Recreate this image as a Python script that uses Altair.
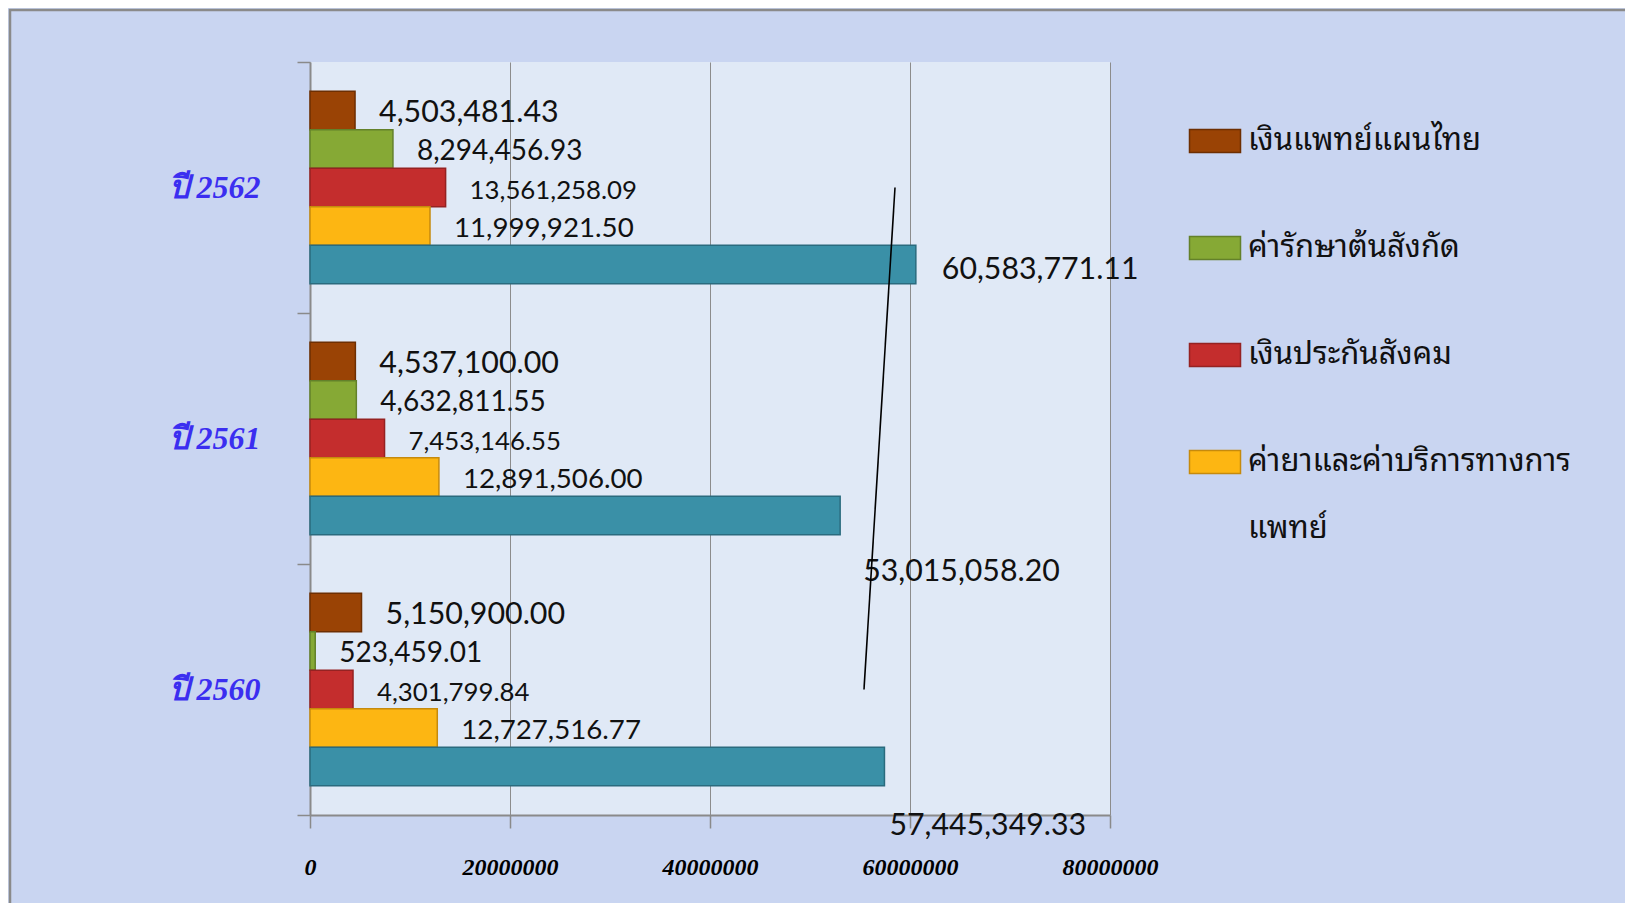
import altair as alt
import pandas as pd

# ---------------- data ----------------
years = ["ปี 2562", "ปี 2561", "ปี 2560"]
series = [
    "เงินแพทย์แผนไทย",
    "ค่ารักษาต้นสังกัด",
    "เงินประกันสังคม",
    "ค่ายาและค่าบริการทางการแพทย์",
    "อื่น ๆ",
]
v_2562 = [4503481.43, 8294456.93, 13561258.09, 11999921.50, 60583771.11]
v_2561 = [4537100.00, 4632811.55, 7453146.55, 12891506.00, 53015058.20]
v_2560 = [5150900.00, 523459.01, 4301799.84, 12727516.77, 57445349.33]
x_ticks = [0, 20000000, 40000000, 60000000, 80000000]

legend_line1 = ["เงินแพทย์แผนไทย", "ค่ารักษาต้นสังกัด", "เงินประกันสังคม", "ค่ายาและค่าบริการทางการ"]
legend_line2 = ["", "", "", "แพทย์"]

# annotation line (drawn in the source slide)
line_x1 = [58500000]
line_x2 = [55400000]
line_y1 = ["ปี 2562"]
line_y2 = ["ปี 2560"]

# ---------------- styles ----------------
fills = ["#9a4305", "#86a935", "#c42d2d", "#fdb612", "#3a90a7"]
strokes = ["#6e2f02", "#63812a", "#952222", "#c68a0c", "#2a6b7e"]
label_sizes = [30.4, 28, 25.8, 27.7, 30.3]
LABEL_FONT = "Lato"
THAI_FONT = "Noto Sans Thai Looped, Noto Looped Thai, Loma, Garuda, Kinnari, Norasi, Noto Serif Thai, Noto Sans Thai, Tahoma, sans-serif"
SERIF = "Liberation Serif, Times New Roman, serif"

rows = []
for y, vals in zip(years, [v_2562, v_2561, v_2560]):
    for s, v in zip(series, vals):
        rows.append({"year": y, "series": s, "value": v})
df = pd.DataFrame(rows)

leg_df = pd.DataFrame({"series": series[:4], "line1": legend_line1, "line2": legend_line2})
line_df = pd.DataFrame({"x1": line_x1, "x2": line_x2, "y1": line_y1, "y2": line_y2})

W, H = 800, 753

xsc = alt.Scale(domain=[0, 80000000], nice=False, zero=True)
ysc = alt.Scale(domain=years, paddingInner=0, paddingOuter=0)

x_enc = alt.X(
    "value:Q",
    scale=xsc,
    title=None,
    axis=alt.Axis(
        values=x_ticks,
        format="d",
        grid=True,
        gridColor="#8c8c8c",
        gridWidth=1,
        domainColor="#8a8a8a",
        domainWidth=2,
        tickColor="#8a8a8a",
        tickWidth=1.5,
        tickSize=13,
        labelPadding=27,
        labelFont=SERIF,
        labelFontSize=24,
        labelFontStyle="italic",
        labelFontWeight="bold",
        labelColor="#000000",
        labelFlush=False,
        labelOverlap=False,
    ),
)
y_enc = alt.Y(
    "year:N",
    scale=ysc,
    sort=years,
    title=None,
    axis=alt.Axis(
        tickBand="extent",
        grid=False,
        domainColor="#8a8a8a",
        domainWidth=2,
        tickColor="#8a8a8a",
        tickWidth=1.5,
        tickSize=13,
        labelPadding=37,
        labelFont=SERIF,
        labelFontSize=32,
        labelFontStyle="italic",
        labelFontWeight="bold",
        labelColor="#3b2ef0",
    ),
)
yoff = alt.YOffset(
    "series:N", sort=series, scale=alt.Scale(domain=series, paddingInner=0, paddingOuter=0.757)
)
fill_enc = alt.Fill("series:N", scale=alt.Scale(domain=series, range=fills), legend=None)
stroke_enc = alt.Stroke("series:N", scale=alt.Scale(domain=series, range=strokes), legend=None)

base = alt.Chart(df)

bars = base.mark_bar(strokeWidth=1.5, opacity=1).encode(
    x=x_enc, y=y_enc, yOffset=yoff, fill=fill_enc, stroke=stroke_enc
)


def label_layer(filt, fsize, dx, dy):
    return (
        base.mark_text(
            align="left", baseline="middle", dx=dx, dy=dy, font=LABEL_FONT, fontSize=fsize, color="#111111"
        )
        .encode(
            x=alt.X("value:Q"),
            y=alt.Y("year:N"),
            yOffset=yoff,
            text=alt.Text("value:Q", format=",.2f"),
        )
        .transform_filter(filt)
    )


label_layers = []
for s, fs in zip(series[:4], label_sizes[:4]):
    label_layers.append(label_layer(alt.datum.series == s, fs, 24, 3))

teal_offsets = {"ปี 2562": (26, 5), "ปี 2561": (23, 56), "ปี 2560": (5, 59)}
for yr in years:
    dx, dy = teal_offsets[yr]
    label_layers.append(
        label_layer((alt.datum.series == series[4]) & (alt.datum.year == yr), label_sizes[4], dx, dy)
    )

ann = alt.Chart(line_df).mark_rule(color="#000000", strokeWidth=1.6).encode(
    x=alt.X("x1:Q"), x2="x2:Q", y=alt.Y("y1:N"), y2="y2:N"
)

frame = alt.Chart(line_df).mark_rect(fill="transparent", stroke="#8a8a8a", strokeWidth=2.5).encode(
    x=alt.value(-300), x2=alt.value(1400), y=alt.value(-52), y2=alt.value(1000)
)

main = alt.layer(bars, *label_layers, ann)

leg_y = alt.Y(
    "series:N",
    sort=series[:4],
    scale=alt.Scale(type="point", domain=series[:4], range=[79, 400], padding=0),
    axis=None,
)
leg_sym = alt.Chart(leg_df).mark_point(
    shape="M-1,-0.45L1,-0.45L1,0.45L-1,0.45Z", filled=True, size=2601, strokeWidth=1.5, opacity=1
).encode(x=alt.value(905), y=leg_y, fill=fill_enc, stroke=stroke_enc)
leg_t1 = alt.Chart(leg_df).mark_text(
    align="left", baseline="middle", font=THAI_FONT, fontSize=31, color="#111111"
).encode(x=alt.value(938), y=leg_y, text="line1:N")
leg_t2 = alt.Chart(leg_df).mark_text(
    align="left", baseline="middle", dy=67, font=THAI_FONT, fontSize=31, color="#111111"
).encode(x=alt.value(938), y=leg_y, text="line2:N")

legend = alt.layer(leg_sym, leg_t1, leg_t2)

chart = (
    alt.layer(frame, main, legend)
    .resolve_scale(y="independent")
    .properties(
        width=W,
        height=H,
        padding={"left": 302, "top": 54, "right": 515, "bottom": 88},
        autosize=alt.AutoSizeParams(type="none"),
        background="#c9d5f1",
    )
    .configure_view(fill="#e0e9f6", stroke=None)
)

chart.save("out.html", embed_options={"renderer": "svg", "actions": False})
